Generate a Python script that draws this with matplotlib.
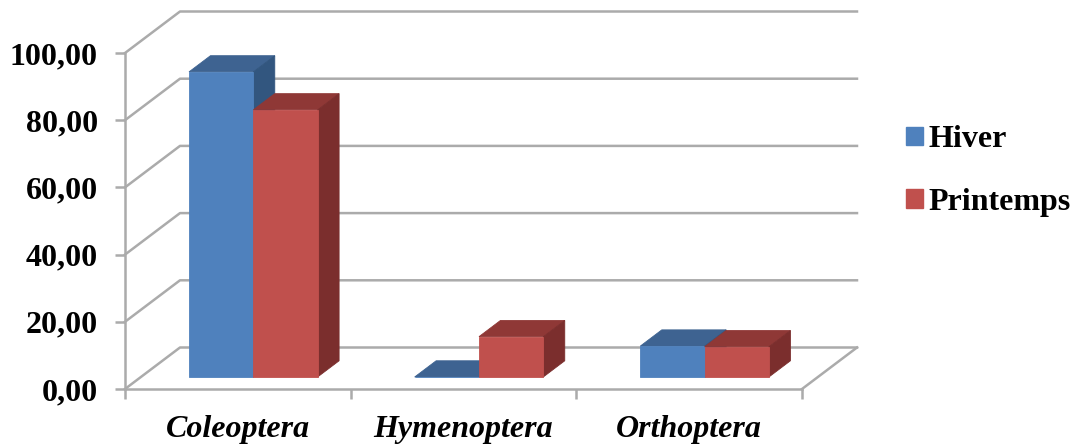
import matplotlib
matplotlib.use('Agg')
import matplotlib.pyplot as plt
from matplotlib.patches import Patch

plt.rcParams['font.family'] = ['Liberation Serif', 'DejaVu Serif']

categories = ['Coleoptera', 'Hymenoptera', 'Orthoptera']
hiver = [90.8, 0.0, 9.2]
printemps = [79.5, 12.0, 9.0]
y_ticks = [0, 20, 40, 60, 80, 100]
y_labels = ['0,00', '20,00', '40,00', '60,00', '80,00', '100,00']

grid_col = '#ABABAB'
blue = ('#4F81BD', '#3E6391', '#32567F')
red = ('#C0504D', '#8F3836', '#7B2E2D')

# oblique projection, depth 0 = front plane, 1 = back wall
depth_x = 55 / 225.7
depth_y = 41.5 / 3.36
bar_d0 = 0.29
bar_d1 = 0.68
gap = 0.213
bar_w = 0.285


def proj(x, y, d):
    return x + d * depth_x, y + d * depth_y


def poly(ax, pts, color, z):
    xs = [p[0] for p in pts]
    ys = [p[1] for p in pts]
    ax.fill(xs, ys, color=color, lw=0.6, zorder=z, clip_on=False)


def bar3d(ax, x0, x1, val, cols, z):
    # front face, top, right side
    poly(ax, [proj(x0, 0, bar_d0), proj(x1, 0, bar_d0), proj(x1, val, bar_d0), proj(x0, val, bar_d0)], cols[0], z + 0.2)
    poly(ax, [proj(x0, val, bar_d0), proj(x1, val, bar_d0), proj(x1, val, bar_d1), proj(x0, val, bar_d1)], cols[1], z)
    poly(ax, [proj(x1, 0, bar_d0), proj(x1, val, bar_d0), proj(x1, val, bar_d1), proj(x1, 0, bar_d1)], cols[2], z + 0.1)


fig = plt.figure(figsize=(10.77, 4.46), dpi=100)
ax = fig.add_axes([125 / 1077, (446 - 389) / 446, 677 / 1077, 336 / 446])
n = len(categories)
ax.set_xlim(0, n)
ax.set_ylim(0, 100)

# walls
for t in y_ticks:
    bx, by = proj(0, t, 1)
    ex, ey = proj(n, t, 1)
    ax.plot([0, bx, ex], [t, by, ey], color=grid_col, lw=1.8, zorder=1, clip_on=False)
bx, by = proj(n, 0, 1)
ax.plot([n, bx], [0, by], color=grid_col, lw=1.8, zorder=1, clip_on=False)

for i in range(n):
    bar3d(ax, i + gap, i + gap + bar_w, hiver[i], blue, 3)
    bar3d(ax, i + gap + bar_w, i + gap + 2 * bar_w, printemps[i], red, 4)

for s in ['top', 'right']:
    ax.spines[s].set_visible(False)
for s in ['left', 'bottom']:
    ax.spines[s].set_color(grid_col)
    ax.spines[s].set_linewidth(1.8)

ax.set_yticks(y_ticks)
ax.set_yticklabels(y_labels, fontsize=23, fontweight='bold')
ax.set_xticks(range(n + 1))
ax.set_xticklabels([])
ax.set_xticks([i + 0.5 for i in range(n)], minor=True)
ax.set_xticklabels(categories, minor=True, fontsize=23, fontweight='bold', fontstyle='italic')
ax.tick_params(axis='y', length=7.5, width=1.8, color=grid_col, pad=12)
ax.tick_params(axis='x', which='major', length=7.5, width=1.8, color=grid_col)
ax.tick_params(axis='x', which='minor', length=0, pad=19)

handles = [Patch(color=blue[0], label='Hiver'), Patch(color=red[0], label='Printemps')]
fig.legend(handles=handles, loc='center left', bbox_to_anchor=(899.5 / 1077, (446 - 171) / 446),
           frameon=False, prop={'size': 23, 'weight': 'bold'}, handlelength=0.52, handleheight=0.52,
           handletextpad=0.2, labelspacing=1.04, borderpad=0, borderaxespad=0.2)

fig.savefig('out.png', dpi=100)
